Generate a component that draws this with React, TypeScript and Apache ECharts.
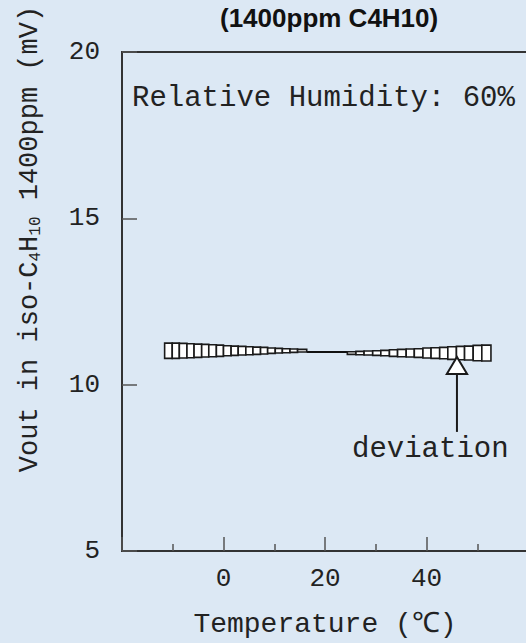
import React, { useEffect, useRef } from "react";
import * as echarts from "echarts";

// Axis ticks
const xTicks = [-20, 0, 20, 40, 60];
const yTicks = [5, 10, 15, 20];

// Deviation band (left tapering part): segment boundaries (°C) and half widths (mV)
const leftBounds = [-11.6, -10.1, -8.7, -7.2, -5.8, -4.3, -2.9, -1.4, 0.0, 1.5, 2.9, 4.4, 5.8, 7.3, 8.7, 10.2, 11.6, 13.1, 14.6, 16.4];
const leftHalf = [0.23, 0.23, 0.22, 0.21, 0.2, 0.19, 0.18, 0.17, 0.15, 0.14, 0.13, 0.12, 0.11, 0.1, 0.08, 0.07, 0.06, 0.05, 0.04];
const leftCenter = 11.02;

// Deviation band (right widening part)
const rightBounds = [24.4, 26.1, 27.7, 29.4, 31.0, 32.7, 34.3, 36.0, 37.6, 39.3, 40.9, 42.6, 44.2, 45.9, 47.5, 49.2, 50.9, 52.7];
const rightHalf = [0.04, 0.05, 0.06, 0.07, 0.08, 0.1, 0.11, 0.12, 0.13, 0.15, 0.16, 0.17, 0.19, 0.2, 0.21, 0.23, 0.24];
const rightCenter = 10.95;

// Thin middle line
const midLine = [
  [16.4, 10.98],
  [24.4, 10.98],
];

// Arrow annotation: [x, tip, base, tail, halfWidth]
const arrow = [[46, 10.83, 10.32, 8.58, 2.0]];

const MONO = '"Liberation Mono", "DejaVu Sans Mono", monospace';
const BG = "#dce8f4";
const INK = "#222";

function buildBand() {
  const rows: number[][] = [];
  for (let i = 0; i < leftHalf.length; i++) {
    rows.push([leftBounds[i], leftBounds[i + 1], leftCenter, leftHalf[i]]);
  }
  for (let i = 0; i < rightHalf.length; i++) {
    rows.push([rightBounds[i], rightBounds[i + 1], rightCenter, rightHalf[i]]);
  }
  return rows;
}

export default function App() {
  const ref = useRef<HTMLDivElement>(null);
  useEffect(() => {
    if (!ref.current) return;
    const chart = echarts.init(ref.current, null, { renderer: "svg" });
    const option: any = {
      animation: false,
      backgroundColor: BG,
      title: {
        text: "(1400ppm C4H10)",
        left: 215,
        top: 0,
        textStyle: {
          fontFamily: '"Liberation Sans", Arial, sans-serif',
          fontWeight: "bold",
          fontSize: 26,
          color: "#111",
        },
      },
      grid: {
        left: 122,
        top: 52,
        width: 406,
        height: 499,
        show: true,
        borderColor: "#333",
        borderWidth: 2,
        backgroundColor: "transparent",
        outerBoundsMode: "none",
        containLabel: false,
      },
      xAxis: {
        type: "value",
        min: xTicks[0],
        max: xTicks[xTicks.length - 1],
        interval: 20,
        name: "Temperature (\u2103)",
        nameLocation: "middle",
        nameGap: 59,
        nameTextStyle: { fontFamily: MONO, fontSize: 28, color: INK },
        axisLine: { show: true, onZero: false, lineStyle: { color: "#333", width: 2 } },
        axisTick: { show: true, inside: true, length: 14, lineStyle: { color: "#555", width: 1.5 } },
        minorTick: { show: true, splitNumber: 2, length: 7, lineStyle: { color: "#555", width: 1.5 } },
        splitLine: { show: false },
        axisLabel: {
          fontFamily: MONO,
          fontSize: 26,
          color: INK,
          margin: 15,
          showMinLabel: false,
          showMaxLabel: false,
        },
      },
      yAxis: {
        type: "value",
        min: yTicks[0],
        max: yTicks[yTicks.length - 1],
        interval: 5,
        axisLine: { show: true, onZero: false, lineStyle: { color: "#333", width: 2 } },
        axisTick: { show: true, inside: true, length: 15, lineStyle: { color: "#555", width: 1.5 } },
        splitLine: { show: false },
        axisLabel: { fontFamily: MONO, fontSize: 26, color: INK, margin: 22 },
      },
      graphic: [
        {
          type: "text",
          left: 132,
          top: 84,
          style: { text: "Relative Humidity: 60%", font: `29px ${MONO}`, fill: INK },
        },
        {
          type: "text",
          left: 352,
          top: 435,
          style: { text: "deviation", font: `29px ${MONO}`, fill: INK },
        },
        {
          type: "text",
          x: 30,
          y: 239,
          rotation: Math.PI / 2,
          style: {
            text: "Vout in iso-C{s|4}H{s|10} 1400ppm (mV)",
            font: `27px ${MONO}`,
            fill: INK,
            align: "center",
            verticalAlign: "middle",
            rich: {
              s: { fontFamily: MONO, fontSize: 16, fill: INK, verticalAlign: "bottom", padding: [10, 0, 0, 0] },
            },
          },
        },
      ],
      series: [
        {
          type: "line",
          data: midLine,
          symbol: "none",
          lineStyle: { color: "#111", width: 2 },
          z: 3,
        },
        {
          type: "custom",
          data: buildBand(),
          encode: { x: [0, 1], y: [2] },
          z: 4,
          renderItem: (params: any, api: any) => {
            const c = api.value(2);
            const h = api.value(3);
            const p0 = api.coord([api.value(0), c + h]);
            const p1 = api.coord([api.value(1), c - h]);
            return {
              type: "rect",
              shape: { x: p0[0], y: p0[1], width: p1[0] - p0[0], height: p1[1] - p0[1] },
              style: { fill: "#fff", stroke: "#1a1a1a", lineWidth: 1.6 },
            };
          },
        },
        {
          type: "custom",
          data: arrow,
          encode: { x: [0], y: [1] },
          z: 5,
          renderItem: (params: any, api: any) => {
            const x = api.value(0);
            const tip = api.coord([x, api.value(1)]);
            const baseL = api.coord([x - api.value(4), api.value(2)]);
            const baseR = api.coord([x + api.value(4), api.value(2)]);
            const base = api.coord([x, api.value(2)]);
            const tail = api.coord([x, api.value(3)]);
            return {
              type: "group",
              children: [
                {
                  type: "line",
                  shape: { x1: base[0], y1: base[1], x2: tail[0], y2: tail[1] },
                  style: { stroke: "#1a1a1a", lineWidth: 2 },
                },
                {
                  type: "polygon",
                  shape: { points: [tip, baseL, baseR] },
                  style: { fill: "#fff", stroke: "#1a1a1a", lineWidth: 2 },
                },
              ],
            };
          },
        },
      ],
    };
    chart.setOption(option);
    return () => chart.dispose();
  }, []);
  return (
    <div
      ref={ref}
      style={{ position: "fixed", left: 0, top: 0, width: 526, height: 643 }}
    />
  );
}
